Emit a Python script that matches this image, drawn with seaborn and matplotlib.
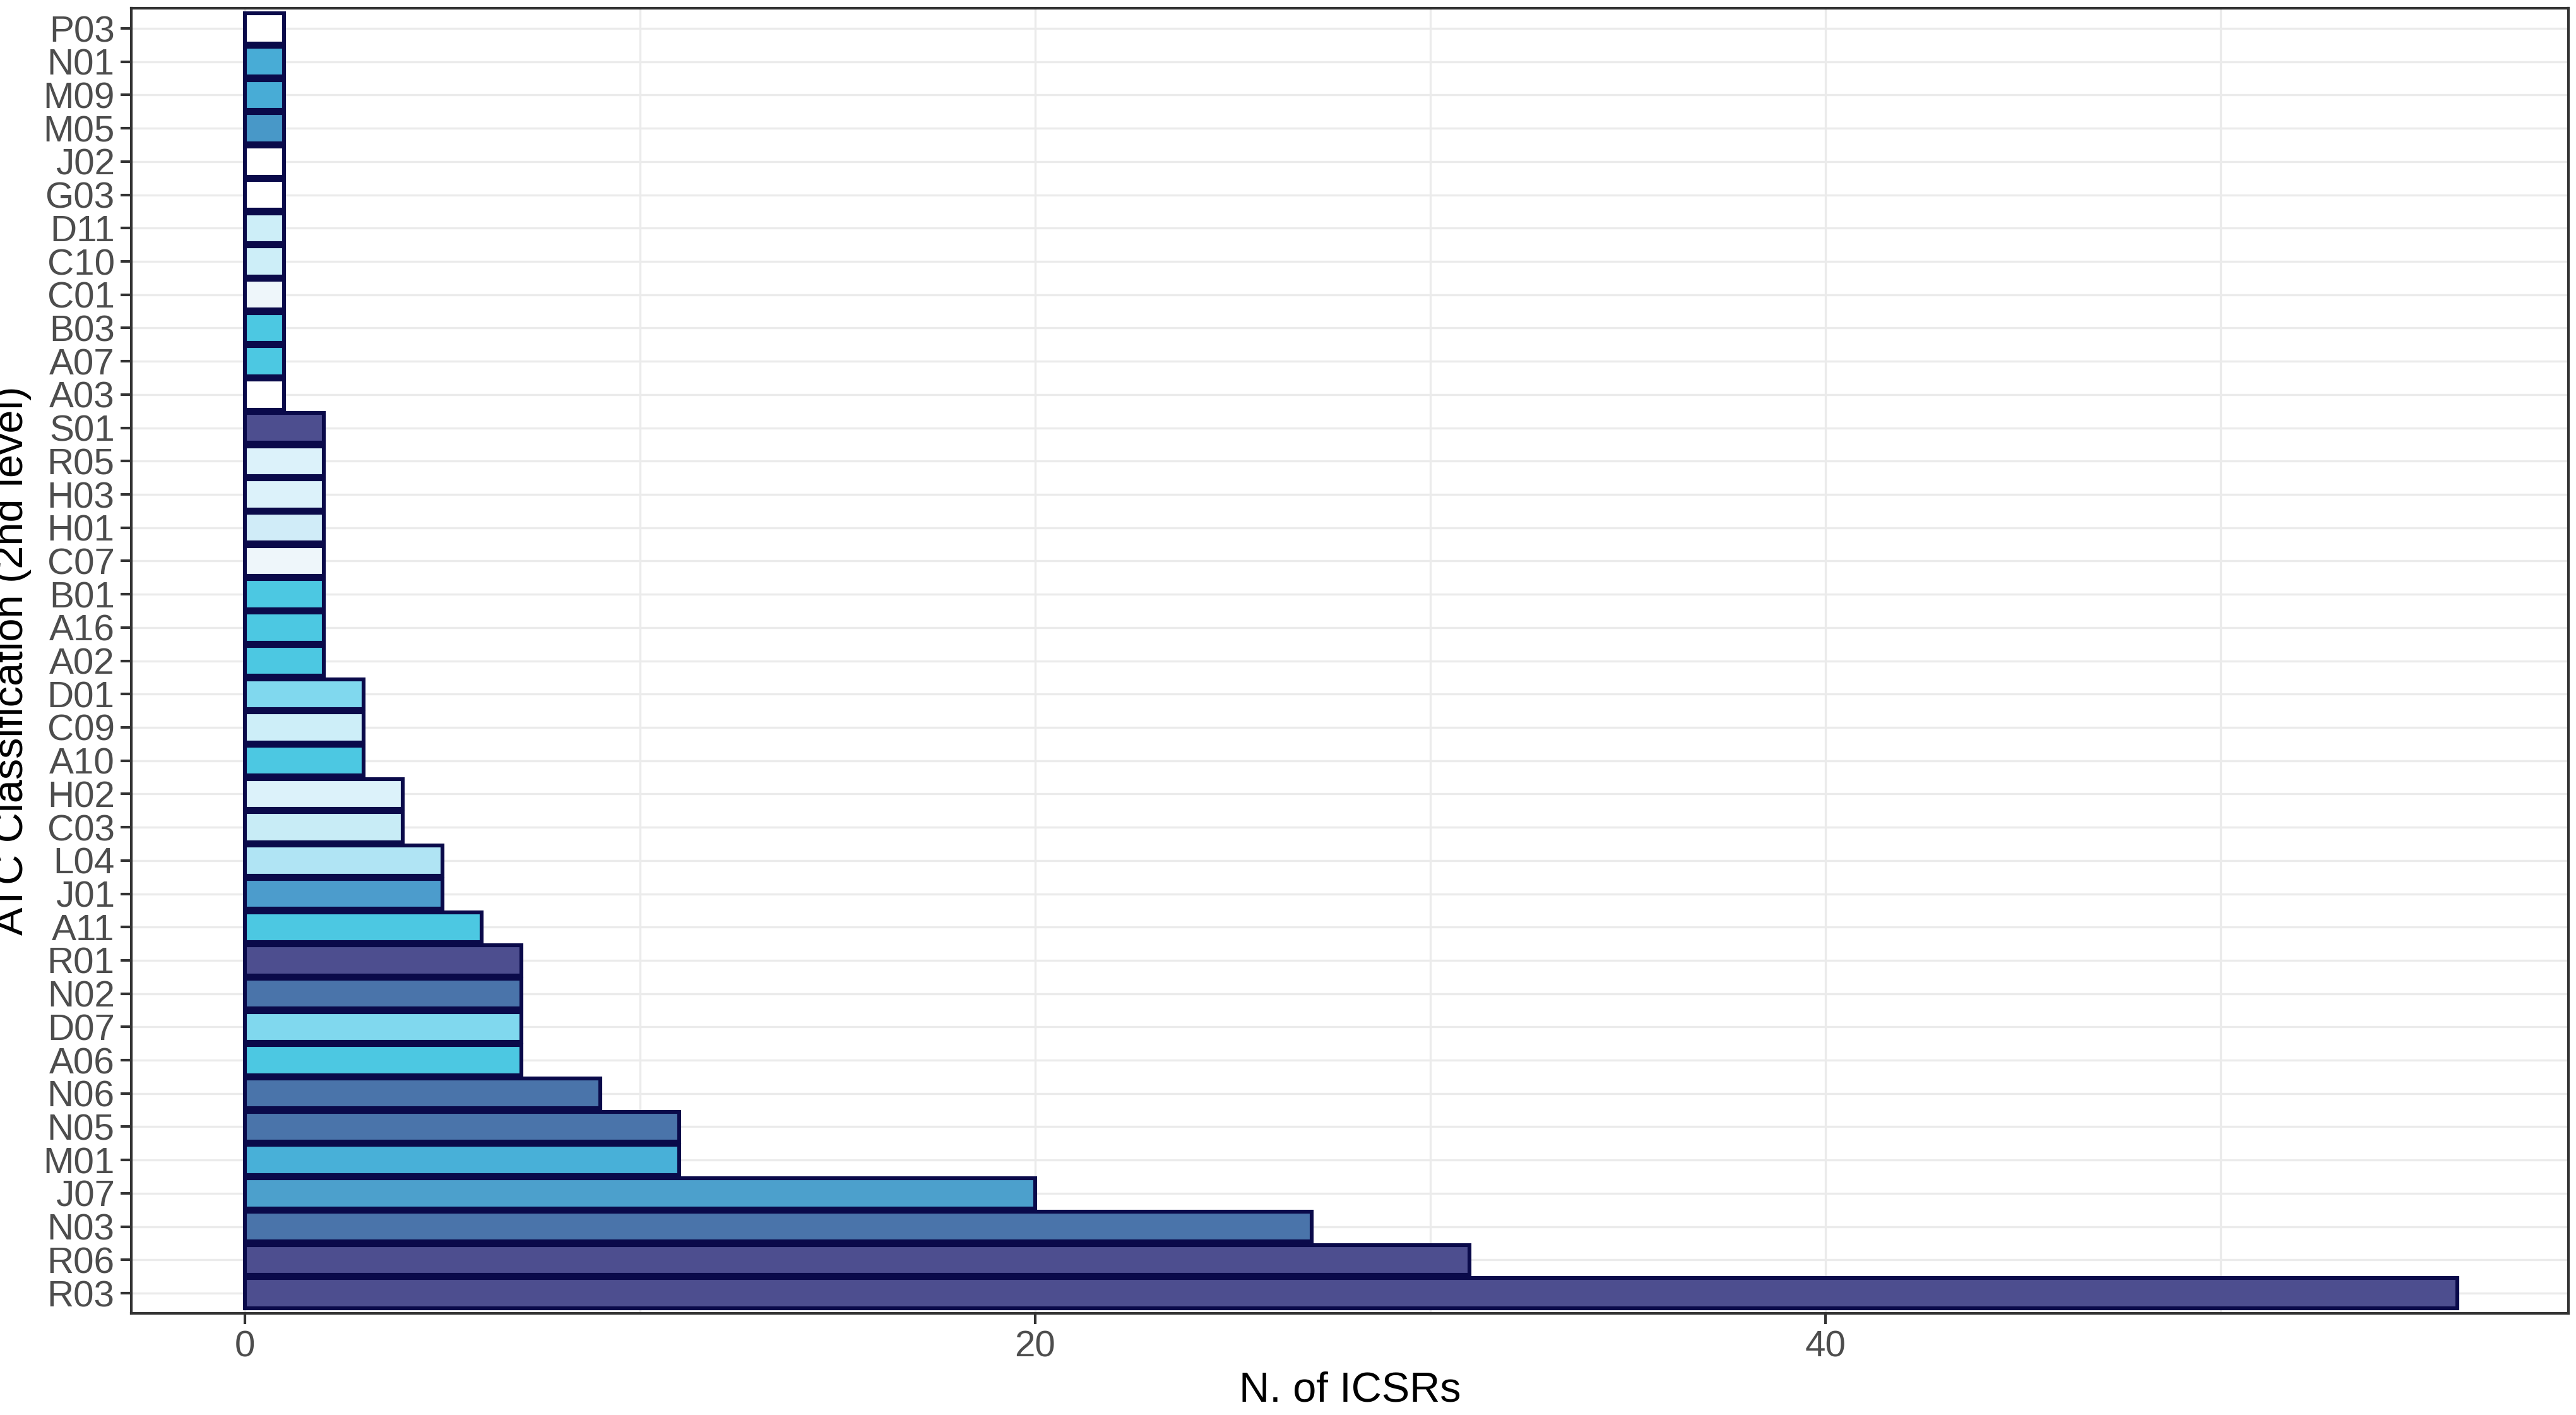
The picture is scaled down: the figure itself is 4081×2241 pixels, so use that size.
import matplotlib
matplotlib.use("Agg")
import pandas as pd
import seaborn as sns
import matplotlib.pyplot as plt

# categories from top to bottom
codes = ['P03', 'N01', 'M09', 'M05', 'J02', 'G03', 'D11', 'C10', 'C01', 'B03', 'A07', 'A03',
         'S01', 'R05', 'H03', 'H01', 'C07', 'B01', 'A16', 'A02', 'D01', 'C09', 'A10', 'H02',
         'C03', 'L04', 'J01', 'A11', 'R01', 'N02', 'D07', 'A06', 'N06', 'N05', 'M01', 'J07',
         'N03', 'R06', 'R03']
counts = [1, 1, 1, 1, 1, 1, 1, 1, 1, 1, 1, 1,
          2, 2, 2, 2, 2, 2, 2, 2, 3, 3, 3, 4,
          4, 5, 5, 6, 7, 7, 7, 7, 9, 11, 11, 20,
          27, 31, 56]
fills = ['#ffffff', '#48acd6', '#48acd6', '#4898c8', '#ffffff', '#ffffff', '#cdeef8', '#cdeef8',
         '#eef6fa', '#4cc8e2', '#4cc8e2', '#ffffff',
         '#4d4e8f', '#dcf2fa', '#dcf2fa', '#d0ecf8', '#eef6fa', '#4cc8e2', '#4cc8e2', '#4cc8e2',
         '#80d8ee', '#cdeef8', '#4cc8e2', '#dcf2fa',
         '#c8ecf6', '#b0e4f4', '#4c9ccc', '#4cc8e2', '#4d4e8f', '#4a74aa', '#80d8ee', '#4cc8e2',
         '#4a74aa', '#4a74aa', '#48b0d8', '#4ca0cc',
         '#4a74aa', '#4d4e8f', '#4d4e8f']

df = pd.DataFrame({'atc': codes, 'n': counts})
pal = dict(zip(codes, fills))

sns.set_style('white')
plt.rcParams['font.family'] = ['Liberation Sans', 'DejaVu Sans']
fig = plt.figure(figsize=(20.405, 11.205), dpi=200)
ax = fig.add_axes([0.051, 0.072, 0.946, 0.922])

sns.barplot(data=df, x='n', y='atc', hue='atc', palette=pal, order=codes, legend=False,
            width=0.9, edgecolor='#0a0a4a', linewidth=2.2, saturation=1, ax=ax)

ax.set_xlim(-2.87, 58.8)
ax.set_ylim(len(codes) - 0.4, -0.6)
ax.set_xticks([0, 20, 40])
ax.set_xticks([10, 30, 50], minor=True)
ax.grid(True, which='both', axis='x', color='#ebebeb', linewidth=1.2)
ax.grid(True, axis='y', color='#ebebeb', linewidth=1.2)
ax.set_axisbelow(True)
for s in ax.spines.values():
    s.set_color('#333333')
    s.set_linewidth(1.5)
ax.tick_params(axis='both', which='major', labelsize=21, labelcolor='#4d4d4d',
               length=6, width=1.5, color='#333333', left=True, bottom=True)
ax.tick_params(axis='x', which='minor', length=0)
ax.set_xlabel('N. of ICSRs', fontsize=24, color='black')
ax.set_ylabel('ATC Classification (2nd level)', fontsize=24, color='black')
ax.yaxis.set_label_coords(-0.041, 0.5)

fig.savefig('out.png', dpi=200)
